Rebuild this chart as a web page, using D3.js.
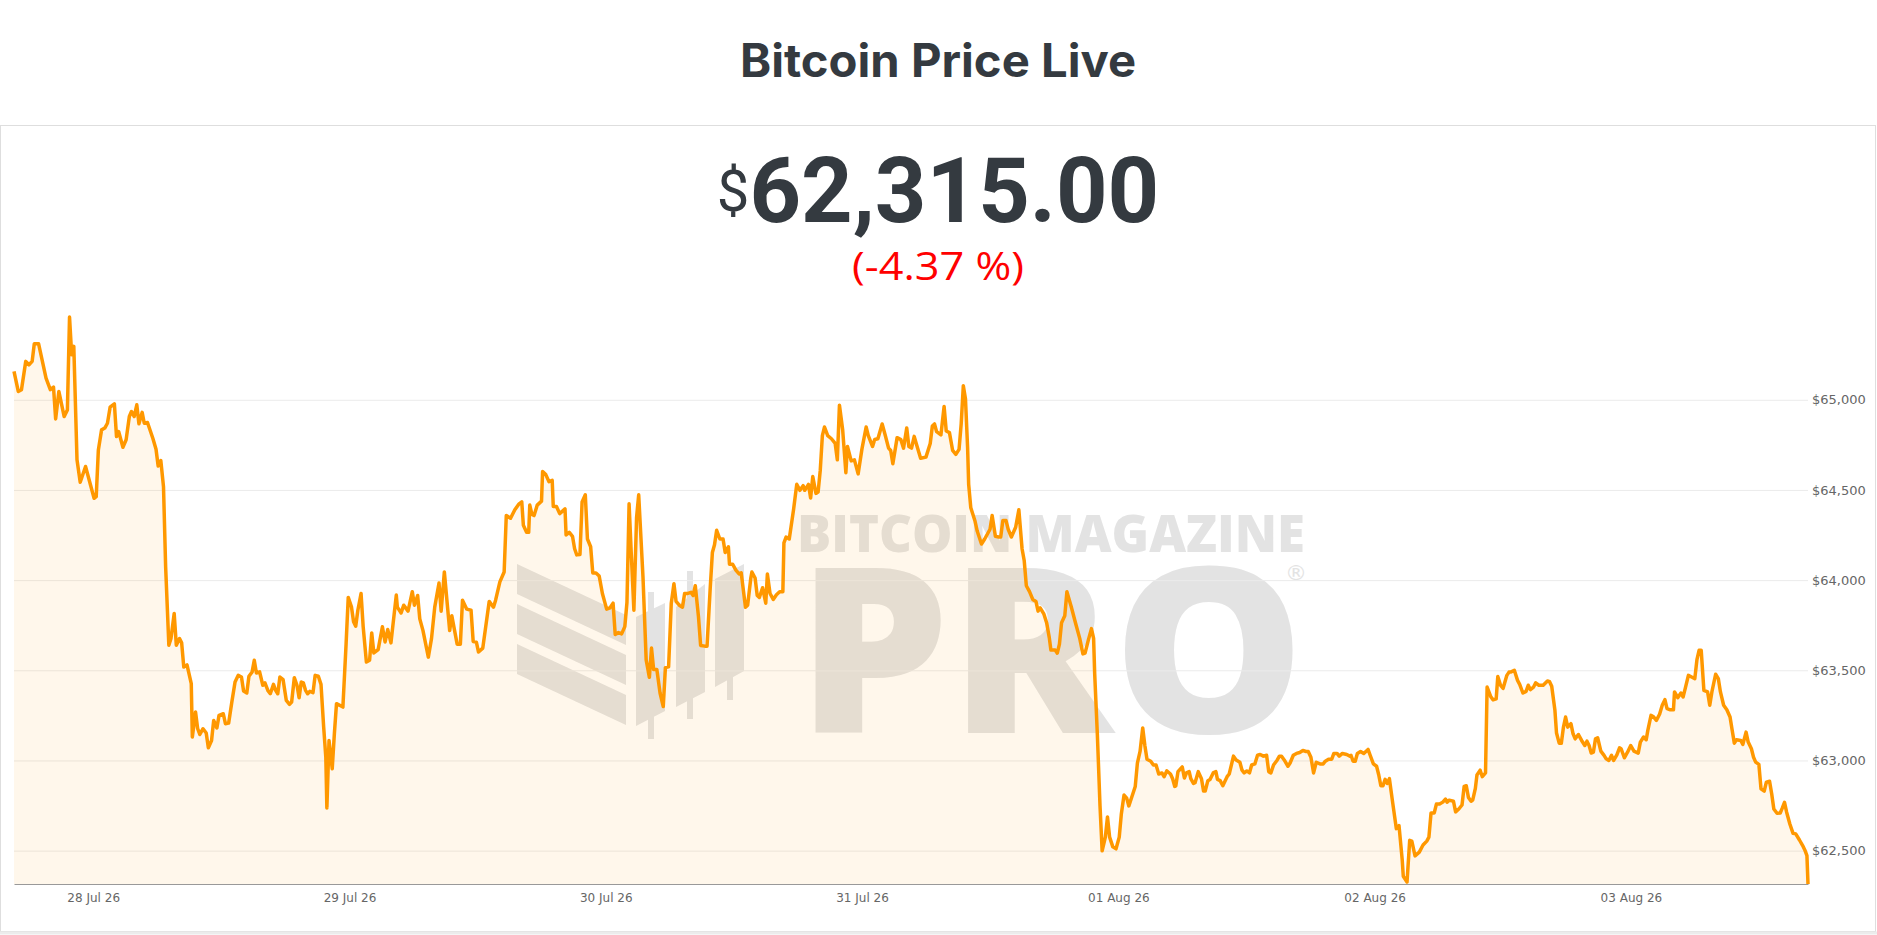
<!DOCTYPE html>
<html><head><meta charset="utf-8">
<script src="https://cdn.jsdelivr.net/npm/d3@7"></script>
<style>body{margin:0;background:#fff;} svg{display:block}</style>
</head><body>
<svg id="chart" width="1877" height="935"></svg>
<script>
const titleText = "Bitcoin Price Live";
const currentPrice = 62315.00;
const changePct = -4.37;
const startTimeUTC = Date.UTC(2026, 6, 27, 16, 35);
const spanHours = 168;
// [hours since start, price in USD]
const priceSamples = [
[0,65157],[0.4,65046],[0.7,65056],[1.1,65213],[1.4,65194],[1.7,65213],[1.9,65311],[2.3,65311],[3.0,65120],[3.4,65056],
[3.7,65070],[3.9,64894],[4.2,65046],[4.7,64907],[5.0,64944],[5.2,65459],[5.4,65250],[5.6,65296],[5.9,64667],[6.2,64543],
[6.7,64630],[7.5,64454],[7.7,64463],[7.9,64722],[8.2,64833],[8.5,64843],[8.75,64870],[9.0,64959],[9.4,64978],[9.6,64796],
[9.8,64824],[10.2,64737],[10.5,64778],[10.8,64907],[11.0,64935],[11.25,64907],[11.5,64972],[11.7,64867],[12.0,64930],[12.2,64870],
[12.5,64874],[13.0,64787],[13.3,64726],[13.5,64633],[13.75,64663],[14.0,64518],[14.2,64074],[14.5,63639],[14.7,63676],[15.0,63815],
[15.2,63639],[15.5,63676],[15.7,63652],[15.9,63518],[16.2,63530],[16.6,63426],[16.7,63130],[17.0,63269],[17.2,63176],[17.4,63144],
[17.7,63176],[18.0,63152],[18.2,63070],[18.5,63111],[18.7,63222],[19.0,63180],[19.2,63250],[19.6,63259],[19.8,63204],[20.1,63207],
[20.4,63324],[20.7,63435],[21.0,63472],[21.3,63463],[21.5,63385],[21.8,63374],[22.0,63467],[22.3,63491],[22.5,63556],[22.7,63485],
[23.0,63491],[23.3,63417],[23.5,63430],[23.8,63385],[24.0,63370],[24.3,63422],[24.5,63389],[24.7,63370],[24.9,63463],[25.2,63448],
[25.5,63333],[25.8,63311],[26.0,63324],[26.25,63459],[26.5,63417],[26.7,63348],[26.9,63435],[27.1,63430],[27.3,63389],[27.5,63370],
[27.7,63383],[28.0,63376],[28.2,63472],[28.5,63467],[28.75,63422],[29.0,63185],[29.2,63018],[29.3,62737],[29.5,63111],[29.8,62954],
[30.0,63148],[30.2,63315],[30.5,63306],[30.8,63296],[31.1,63648],[31.3,63904],[31.6,63852],[31.8,63769],[32.0,63744],[32.2,63833],
[32.5,63926],[32.7,63741],[33.0,63546],[33.3,63556],[33.5,63707],[33.7,63596],[34.1,63615],[34.5,63741],[34.75,63657],[35.0,63726],
[35.3,63652],[35.5,63759],[35.8,63917],[35.9,63850],[36.25,63818],[36.5,63861],[36.9,63828],[37.3,63936],[37.5,63861],[37.8,63915],
[38.0,63785],[38.3,63720],[38.8,63573],[39.1,63677],[39.4,63850],[39.8,63984],[40.0,63828],[40.3,64045],[40.8,63720],[41.0,63802],
[41.5,63645],[41.8,63645],[42.0,63889],[42.4,63839],[42.8,63833],[43.0,63660],[43.3,63656],[43.5,63601],[43.9,63623],[44.5,63882],
[44.9,63850],[45.1,63889],[45.5,63990],[45.9,64045],[46.1,64358],[46.5,64343],[46.9,64390],[47.3,64423],[47.55,64434],[47.7,64304],
[48.0,64265],[48.2,64265],[48.3,64416],[48.5,64364],[48.7,64358],[49.0,64416],[49.4,64438],[49.5,64602],[49.8,64585],[50.1,64546],
[50.4,64553],[50.5,64408],[50.8,64408],[51.1,64369],[51.6,64395],[51.7,64250],[52.0,64265],[52.3,64243],[52.5,64174],[52.7,64140],
[53.0,64142],[53.2,64434],[53.5,64473],[53.7,64228],[54.0,64185],[54.2,64040],[54.5,64040],[54.8,64023],[55.1,63926],[55.5,63839],
[55.8,63846],[56.1,63872],[56.3,63699],[56.6,63709],[56.9,63702],[57.2,63742],[57.4,63876],[57.6,64423],[57.8,64153],[58.05,63833],
[58.3,64347],[58.5,64473],[58.9,64019],[59.2,63558],[59.5,63461],[59.7,63623],[59.9,63504],[60.2,63504],[60.5,63374],[60.8,63299],
[61.0,63515],[61.3,63519],[61.55,63872],[61.8,63980],[62.0,63882],[62.3,63861],[62.6,63850],[62.8,63926],[63.1,63926],[63.4,63932],
[63.6,63915],[63.8,63969],[64.1,63796],[64.3,63638],[64.7,63634],[64.9,63634],[65.2,63958],[65.4,64153],[65.6,64196],[65.8,64276],
[66.1,64228],[66.4,64228],[66.6,64153],[66.9,64185],[67.0,64088],[67.3,64088],[67.6,64055],[67.9,64034],[68.1,64040],[68.5,63850],
[68.7,63861],[69.0,64012],[69.1,64045],[69.4,64012],[69.6,63915],[69.8,63904],[70.1,63958],[70.4,63872],[70.55,64034],[70.8,63926],
[71.1,63893],[71.4,63919],[71.7,63936],[72.0,63936],[72.1,64207],[72.3,64239],[72.6,64228],[73.0,64390],[73.3,64531],[73.6,64498],
[73.9,64524],[74.05,64498],[74.4,64531],[74.6,64455],[74.8,64574],[75.1,64481],[75.3,64488],[75.5,64607],[75.7,64801],[75.9,64849],
[76.2,64801],[76.55,64784],[76.9,64758],[77.1,64667],[77.3,64970],[77.6,64834],[77.9,64596],[78.05,64741],[78.4,64661],[78.7,64667],
[79.05,64589],[79.4,64725],[79.8,64849],[80.0,64801],[80.4,64741],[80.6,64780],[80.9,64784],[81.3,64866],[81.6,64801],[81.9,64732],
[82.1,64719],[82.3,64645],[82.7,64790],[83.05,64779],[83.3,64732],[83.6,64844],[83.8,64741],[84.05,64732],[84.3,64797],[84.6,64736],
[84.9,64676],[85.4,64682],[85.8,64758],[86.0,64855],[86.2,64866],[86.4,64823],[86.8,64805],[87.1,64963],[87.3,64827],[87.6,64818],
[87.9,64719],[88.2,64697],[88.5,64725],[88.7,64866],[88.9,65078],[89.1,65006],[89.3,64736],[89.4,64531],[89.6,64401],[90.0,64326],
[90.2,64272],[90.6,64200],[90.9,64228],[91.4,64282],[91.6,64358],[91.9,64243],[92.2,64239],[92.4,64239],[92.6,64330],[92.9,64330],
[93.1,64282],[93.4,64239],[93.8,64293],[94.1,64390],[94.4,64174],[94.6,64109],[94.8,63969],[95.1,63936],[95.4,63893],[95.7,63882],
[95.9,63828],[96.1,63846],[96.45,63811],[96.7,63764],[96.95,63681],[97.1,63612],[97.5,63612],[97.7,63595],[97.9,63645],[98.1,63764],
[98.4,63802],[98.6,63936],[99.0,63854],[99.4,63764],[99.8,63677],[100.1,63591],[100.3,63595],[100.6,63666],[100.9,63731],[101.1,63677],
[101.2,63483],[101.45,63147],[101.7,62748],[101.9,62499],[102.2,62575],[102.4,62687],[102.6,62575],[102.9,62521],[103.2,62510],[103.5,62575],
[103.7,62705],[103.95,62808],[104.2,62791],[104.4,62748],[104.7,62802],[105.0,62856],[105.2,62985],[105.45,63050],[105.7,63180],[105.9,63083],
[106.1,63007],[106.45,62996],[106.7,62975],[106.95,62975],[107.2,62925],[107.5,62931],[107.7,62910],[107.95,62942],[108.3,62925],[108.5,62899],
[108.7,62856],[108.8,62860],[109.0,62938],[109.4,62964],[109.6,62903],[109.8,62931],[110.05,62938],[110.2,62899],[110.45,62873],[110.6,62877],
[110.9,62938],[111.2,62899],[111.4,62830],[111.55,62830],[111.8,62888],[112.0,62895],[112.3,62931],[112.55,62938],[112.7,62895],[112.95,62888],
[113.2,62860],[113.6,62910],[113.8,62925],[114.2,63024],[114.45,63003],[114.8,62990],[115.0,62946],[115.2,62931],[115.45,62942],[115.7,62931],
[115.9,62975],[116.2,62981],[116.45,63029],[116.7,63033],[117.0,63024],[117.3,63029],[117.5,62938],[117.7,62931],[117.95,62975],[118.3,63003],
[118.5,63024],[118.7,63024],[118.95,63003],[119.3,62968],[119.5,62986],[119.8,63029],[120.1,63039],[120.4,63044],[120.7,63055],[121.0,63050],
[121.2,63050],[121.45,63018],[121.7,62931],[121.95,62990],[122.3,62981],[122.6,62981],[122.8,62996],[123.1,63007],[123.4,63007],[123.6,63039],
[123.9,63039],[124.1,63024],[124.4,63039],[124.8,63033],[125.1,63024],[125.2,63029],[125.4,62996],[125.6,62996],[125.8,63039],[126.1,63050],
[126.4,63039],[126.8,63061],[127.0,63029],[127.3,62981],[127.6,62968],[127.8,62921],[128.0,62860],[128.2,62860],[128.4,62895],[128.6,62873],
[128.8,62899],[129.1,62769],[129.45,62622],[129.7,62639],[130.0,62449],[130.1,62358],[130.45,62326],[130.7,62557],[130.9,62553],[131.2,62471],
[131.6,62492],[131.95,62531],[132.3,62553],[132.5,62575],[132.7,62709],[133.0,62709],[133.2,62758],[133.5,62758],[133.8,62769],[134.05,62786],
[134.2,62769],[134.4,62780],[134.8,62774],[135.0,62715],[135.3,62731],[135.6,62753],[135.8,62856],[136.0,62860],[136.2,62795],[136.45,62774],
[136.6,62780],[136.85,62845],[137.0,62920],[137.3,62946],[137.5,62910],[137.8,62931],[137.95,63407],[138.3,63353],[138.5,63336],[138.8,63342],
[138.95,63465],[139.2,63418],[139.45,63400],[139.8,63472],[140.0,63490],[140.2,63491],[140.5,63500],[140.8,63444],[141.0,63422],[141.3,63374],
[141.6,63383],[141.8,63417],[142.0,63393],[142.3,63407],[142.5,63430],[142.8,63417],[143.2,63417],[143.6,63441],[143.8,63437],[144.0,63411],
[144.3,63278],[144.45,63152],[144.7,63096],[144.9,63096],[145.1,63185],[145.3,63241],[145.5,63185],[145.8,63204],[146.0,63148],[146.2,63120],
[146.5,63144],[146.8,63111],[147.1,63083],[147.3,63107],[147.5,63083],[147.7,63041],[147.9,63046],[148.1,63120],[148.3,63126],[148.6,63052],
[148.9,63028],[149.1,63009],[149.35,63000],[149.6,63028],[149.8,63000],[150.1,63031],[150.35,63070],[150.5,63065],[150.8,63015],[151.1,63046],
[151.4,63083],[151.7,63052],[152.1,63041],[152.3,63102],[152.6,63130],[152.85,63115],[153.0,63167],[153.3,63250],[153.5,63244],[153.8,63222],
[154.1,63256],[154.35,63306],[154.6,63337],[154.8,63287],[155.1,63281],[155.4,63281],[155.5,63380],[155.8,63348],[156.1,63374],[156.3,63352],
[156.5,63398],[156.8,63472],[157.1,63463],[157.4,63454],[157.6,63559],[157.8,63611],[158.0,63611],[158.25,63389],[158.6,63380],[158.8,63306],
[159.0,63380],[159.35,63478],[159.6,63454],[159.8,63380],[160.1,63306],[160.4,63281],[160.7,63241],[160.9,63167],[161.1,63096],[161.3,63115],
[161.7,63111],[161.9,63089],[162.2,63157],[162.4,63102],[162.7,63065],[162.9,63018],[163.1,62991],[163.4,62978],[163.6,62843],[163.9,62830],
[164.1,62880],[164.4,62885],[164.6,62815],[164.8,62731],[165.1,62707],[165.4,62709],[165.6,62737],[165.8,62768],[166.0,62713],[166.3,62648],
[166.6,62596],[166.85,62593],[167.2,62559],[167.5,62528],[167.7,62504],[167.9,62472],[168.0,62315]
];
const yTickValues = [62500, 63000, 63500, 64000, 64500, 65000];
const xTickDates = ["2026-07-28", "2026-07-29", "2026-07-30", "2026-07-31", "2026-08-01", "2026-08-02", "2026-08-03"];

const W = 1877, H = 935;
const plot = {left: 14, right: 1808, top: 317, bottom: 884};
const svg = d3.select("#chart");

const data = priceSamples.map(([h, v]) => ({t: new Date(startTimeUTC + h * 3600e3), v}));
const x = d3.scaleUtc()
  .domain([new Date(startTimeUTC), new Date(startTimeUTC + spanHours * 3600e3)])
  .range([plot.left, plot.right]);
const y = d3.scaleLinear().domain(d3.extent(data, d => d.v)).range([plot.bottom, plot.top]);

// Title
svg.append("text").attr("x", 938).attr("y", 77).attr("text-anchor", "middle")
  .attr("font-family", "Inter, Roboto, sans-serif").attr("font-weight", 700)
  .attr("font-size", 46).attr("textLength", 396).attr("lengthAdjust", "spacingAndGlyphs")
  .attr("fill", "#343a40").text(titleText);

// Card
svg.append("rect").attr("x", 0.5).attr("y", 125.5).attr("width", 1875).attr("height", 806)
  .attr("fill", "none").attr("stroke", "#dedede").attr("stroke-width", 1);
svg.append("line").attr("x1", 0).attr("x2", 1877).attr("y1", 933).attr("y2", 933)
  .attr("stroke", "#ececec").attr("stroke-width", 3);

// Price
const priceText = svg.append("text").attr("x", 938).attr("y", 222).attr("text-anchor", "middle")
  .attr("font-family", "Roboto, 'Open Sans', sans-serif").attr("fill", "#343a40");
priceText.append("tspan").attr("font-size", 58).attr("font-weight", 400).attr("dy", -11).text("$");
priceText.append("tspan").attr("font-size", 90).attr("font-weight", 700).attr("dy", 11)
  .text(d3.format(",.2f")(currentPrice));

svg.append("text").attr("x", 938).attr("y", 280).attr("text-anchor", "middle")
  .attr("font-family", "'Open Sans', Roboto, sans-serif").attr("font-size", 38)
  .attr("textLength", 172).attr("lengthAdjust", "spacingAndGlyphs")
  .attr("fill", "#ff0000").text(`(${changePct.toFixed(2)} %)`);

// Watermark
const wm = svg.append("g").attr("fill", "#e3e3e3");
for (let k = 0; k < 3; k++) {
  const o = 40 * k;
  wm.append("polygon").attr("points", [[517,564+o],[626,615+o],[626,645+o],[517,594+o]].join(" "));
}
const bars = [
  {x0: 636, x1: 665, t0: 617, t1: 603, b0: 726, b1: 711, wx: 648, wt: 592, wb: 739},
  {x0: 676, x1: 705, t0: 607, t1: 584, b0: 707, b1: 692, wx: 687, wt: 571, wb: 719},
  {x0: 715, x1: 744, t0: 579, t1: 564, b0: 687, b1: 671, wx: 727, wt: 575, wb: 700}
];
bars.forEach(b => {
  wm.append("polygon").attr("points", [[b.x0,b.t0],[b.x1,b.t1],[b.x1,b.b1],[b.x0,b.b0]].join(" "));
  wm.append("rect").attr("x", b.wx).attr("y", b.wt).attr("width", 6).attr("height", b.wb - b.wt);
});
wm.append("text").attr("x", 797).attr("y", 552).attr("font-family", "'Open Sans', Lato, sans-serif")
  .attr("font-weight", 800).attr("font-size", 52).attr("textLength", 508).attr("lengthAdjust", "spacingAndGlyphs")
  .text("BITCOIN MAGAZINE");
wm.append("text").attr("x", 797).attr("y", 733).attr("font-family", "'Open Sans', Lato, sans-serif")
  .attr("font-weight", 800).attr("font-size", 230).attr("textLength", 508).attr("lengthAdjust", "spacingAndGlyphs")
  .text("PRO");
wm.append("text").attr("x", 1296).attr("y", 580).attr("text-anchor", "middle")
  .attr("font-family", "'DejaVu Sans', sans-serif").attr("font-size", 22).text("®");

// Gridlines
const grid = svg.append("g").attr("transform", `translate(${plot.left},0)`)
  .call(d3.axisLeft(y).tickValues(yTickValues).tickSize(-(plot.right - plot.left)).tickFormat(""));
grid.select(".domain").remove();
grid.selectAll("line").attr("stroke", "#ebebeb").attr("stroke-width", 1);

// Area and line
svg.append("path").datum(data)
  .attr("d", d3.area().x(d => x(d.t)).y0(plot.bottom).y1(d => y(d.v)))
  .attr("fill", "rgba(255,152,0,0.08)");
svg.append("path").datum(data)
  .attr("d", d3.line().x(d => x(d.t)).y(d => y(d.v)))
  .attr("fill", "none").attr("stroke", "#ff9800").attr("stroke-width", 3.5)
  .attr("stroke-linejoin", "round").attr("stroke-linecap", "butt");

// Y axis labels
const yAxis = svg.append("g").attr("transform", `translate(${plot.right},0)`)
  .call(d3.axisRight(y).tickValues(yTickValues).tickSize(0).tickPadding(4)
    .tickFormat(d => "$" + d3.format(",")(d)));
yAxis.select(".domain").remove();
yAxis.selectAll("text").attr("font-family", "'DejaVu Sans', Verdana, sans-serif")
  .attr("font-size", 13).attr("fill", "#666");

// X axis
const xAxis = svg.append("g").attr("transform", `translate(0,${plot.bottom})`)
  .call(d3.axisBottom(x).tickValues(xTickDates.map(s => new Date(s + "T00:00:00Z")))
    .tickSize(0).tickPadding(9).tickFormat(d3.utcFormat("%d %b %y")));
xAxis.select(".domain").attr("stroke", "#999").attr("stroke-width", 1.2);
xAxis.selectAll("text").attr("font-family", "'DejaVu Sans', Verdana, sans-serif")
  .attr("font-size", 12).attr("fill", "#666");
</script>
</body></html>
